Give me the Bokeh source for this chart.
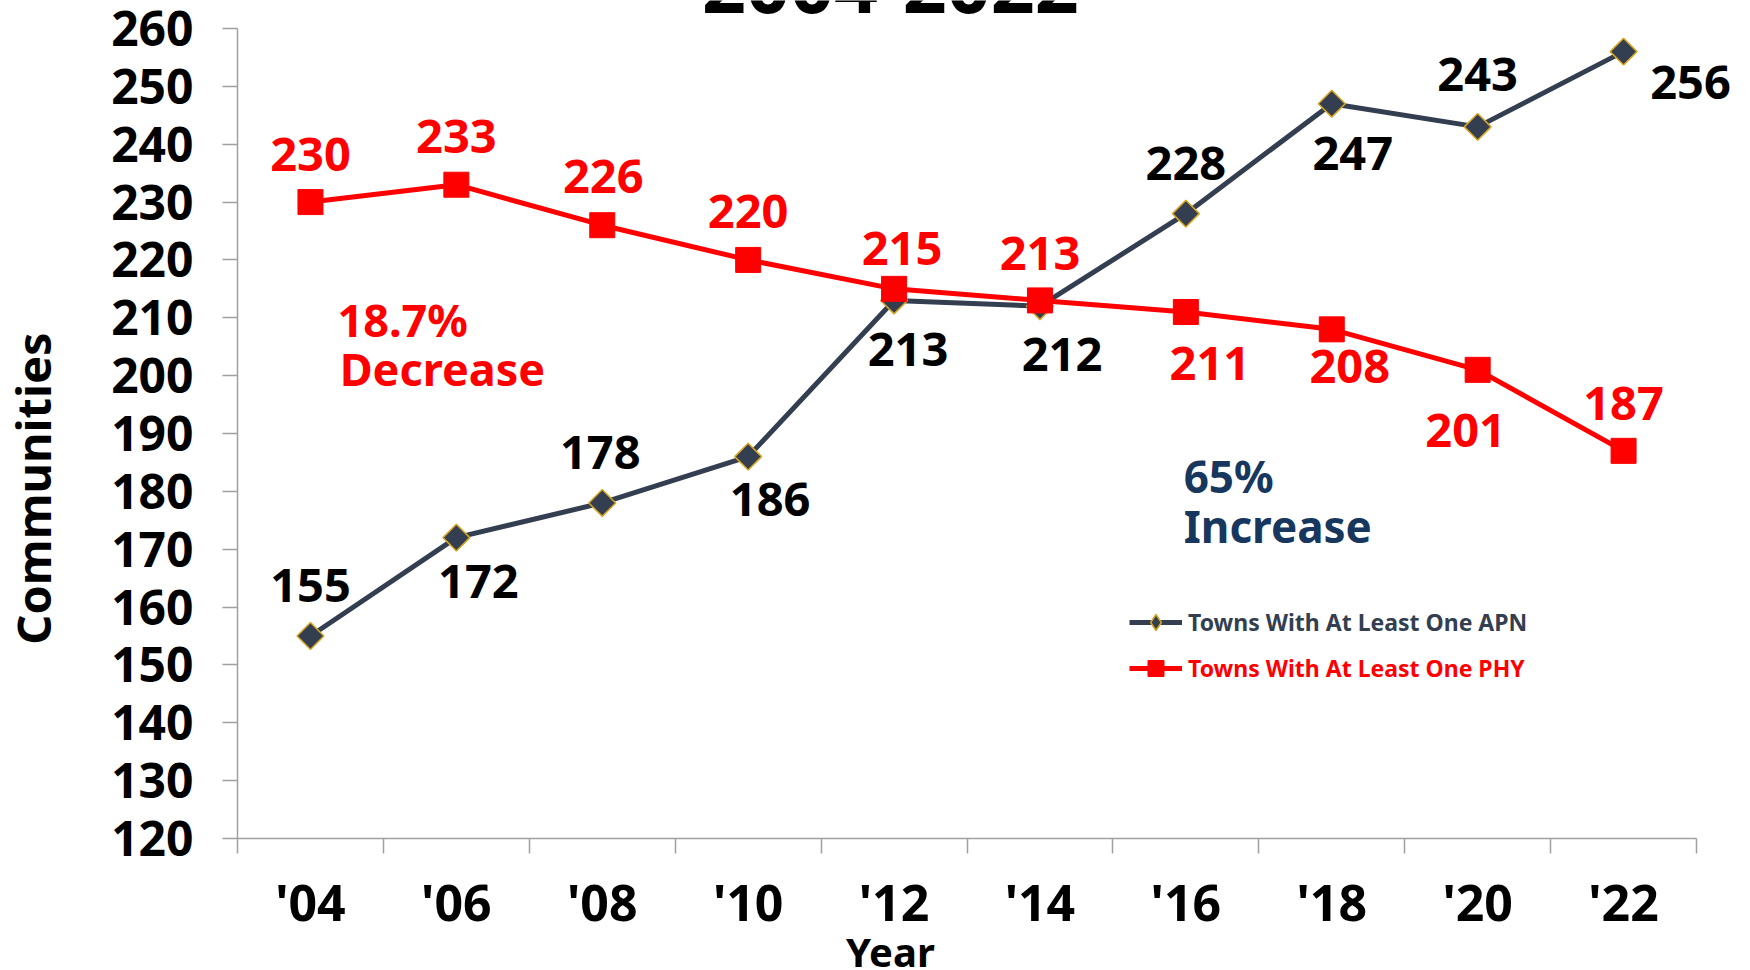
import numpy as np
from bokeh.plotting import figure
from bokeh.models import (Range1d, FixedTicker, LabelSet, Label, ColumnDataSource,
                          Legend, LegendItem)
from bokeh.embed import file_html
from bokeh.resources import INLINE
from bokeh.core.properties import value

# ---------------- data ----------------
years = [2004, 2006, 2008, 2010, 2012, 2014, 2016, 2018, 2020, 2022]
year_labels = ["'04", "'06", "'08", "'10", "'12", "'14", "'16", "'18", "'20", "'22"]
apn = [155, 172, 178, 186, 213, 212, 228, 247, 243, 256]
phy = [230, 233, 226, 220, 215, 213, 211, 208, 201, 187]
y_ticks = list(range(120, 261, 10))
apn_name = "Towns With At Least One APN"
phy_name = "Towns With At Least One PHY"
title_text = "2004-2022"
x_title = "Year"
y_title = "Communities"

# label offsets (screen px, +y = up)
apn_dx = [0, 22, -2, 22, 14, 22, 0, 21, 0, 67]
apn_dy = [50, -44, 50, -43, -49, -48, 50, -50, 52, -31]
phy_dx = [0, 0, 1, 0, 8, 0, 24, 18, -12, 0]
phy_dy = [48, 48, 49, 48, 40, 47, -52, -37, -61, 47]

FONT_NAME = "Noto Sans"
FONT = value(FONT_NAME)
APN_C = "#333F50"
APN_EDGE = "#DAA520"
PHY_C = "#FF0000"
NAVY = "#17375E"
AXIS_C = "#A0A0A0"

# frame fills the whole canvas; axes are pinned at data positions
p = figure(width=1750, height=970, output_backend="svg", toolbar_location=None,
           x_range=Range1d(1999.751, 2023.740), y_range=Range1d(97.185, 264.839),
           min_border_left=0, min_border_right=0, min_border_top=0,
           min_border_bottom=0)
p.outline_line_color = None
p.grid.visible = False
p.background_fill_color = "white"
p.border_fill_color = "white"

src_apn = ColumnDataSource(dict(x=years, y=apn, t=[str(v) for v in apn], dx=apn_dx, dy=apn_dy))
src_phy = ColumnDataSource(dict(x=years, y=phy, t=[str(v) for v in phy], dx=phy_dx, dy=phy_dy))

apn_line = p.line("x", "y", source=src_apn, line_color=APN_C, line_width=5)
# diamond swatch used for the legend (hidden under the rotated squares)
apn_swatch = p.scatter("x", "y", source=src_apn, marker="diamond", size=16,
                       fill_color=APN_C, line_color=APN_EDGE, line_width=1.5)
apn_pts = p.scatter("x", "y", source=src_apn, marker="square", angle=np.pi / 4, size=19,
                    fill_color=APN_C, line_color=APN_EDGE, line_width=1.5)
phy_line = p.line("x", "y", source=src_phy, line_color=PHY_C, line_width=5)
phy_pts = p.scatter("x", "y", source=src_phy, marker="square", size=25,
                    fill_color=PHY_C, line_color=PHY_C, line_width=1)

for src, col in ((src_apn, "black"), (src_phy, PHY_C)):
    ls = LabelSet(x="x", y="y", text="t", source=src, x_offset="dx", y_offset="dy",
                  text_align="center", text_baseline="middle", text_color=col,
                  text_font=FONT, text_font_style="bold", text_font_size="47px")
    p.add_layout(ls)

# axes
xa = p.xaxis[0]
xa.fixed_location = 120
xa.bounds = (2003, 2023)
xa.ticker = FixedTicker(ticks=years, minor_ticks=list(range(2003, 2024, 2)))
xa.major_label_overrides = dict(zip(years, year_labels))
xa.major_tick_out = 0
xa.major_tick_in = 0
xa.major_tick_line_color = None
xa.minor_tick_out = 15
xa.minor_tick_in = 0
xa.minor_tick_line_color = AXIS_C
xa.minor_tick_line_width = 1.5
xa.axis_line_color = AXIS_C
xa.axis_line_width = 1.5
xa.major_label_text_font = FONT_NAME
xa.major_label_text_font_style = "bold"
xa.major_label_text_font_size = "50px"
xa.major_label_text_color = "black"
xa.major_label_standoff = 15

ya = p.yaxis[0]
ya.fixed_location = 2003
ya.bounds = (120, 260)
ya.ticker = FixedTicker(ticks=y_ticks)
ya.major_tick_out = 15
ya.major_tick_in = 0
ya.major_tick_line_color = AXIS_C
ya.major_tick_line_width = 1.5
ya.minor_tick_line_color = None
ya.axis_line_color = AXIS_C
ya.axis_line_width = 1.5
ya.major_label_text_font = FONT_NAME
ya.major_label_text_font_style = "bold"
ya.major_label_text_font_size = "48px"
ya.major_label_text_color = "black"
ya.major_label_standoff = 29

# titles as annotations
p.add_layout(Label(x=2011.95, y=267.59, text=title_text, text_align="center",
                   text_baseline="middle", text_font=FONT_NAME, text_font_style="bold",
                   text_font_size="77px", text_color="black"))
p.add_layout(Label(x=2011.95, y=100.47, text=x_title, text_align="center",
                   text_baseline="middle", text_font=FONT_NAME, text_font_style="bold",
                   text_font_size="40px", text_color="black"))
p.add_layout(Label(x=2000.19, y=180.49, text=y_title, angle=np.pi / 2, text_align="center",
                   text_baseline="middle", text_font=FONT_NAME, text_font_style="bold",
                   text_font_size="47px", text_color="black"))

# annotations
for txt, x, y, col, fs in (("18.7%", 2004.37, 209.62, PHY_C, "45px"),
                           ("Decrease", 2004.40, 201.32, PHY_C, "45px"),
                           ("65%", 2015.97, 182.59, NAVY, "44px"),
                           ("Increase", 2015.97, 173.94, NAVY, "44px")):
    p.add_layout(Label(x=x, y=y, text=txt, text_align="left", text_baseline="middle",
                       text_font=FONT_NAME, text_font_style="bold", text_font_size=fs,
                       text_color=col))

# legends (one per item so each label gets its own colour)
for name, rends, col, loc in ((apn_name, [apn_line, apn_swatch], APN_C, (1129, 328)),
                              (phy_name, [phy_line, phy_pts], PHY_C, (1129, 282))):
    leg = Legend(items=[LegendItem(label=name, renderers=rends)], location=loc,
                 glyph_width=53, glyph_height=40, label_height=40, padding=0, margin=0,
                 spacing=0, label_standoff=6, border_line_color=None,
                 background_fill_alpha=0, label_text_font=FONT_NAME,
                 label_text_font_style="bold", label_text_font_size="23px",
                 label_text_color=col)
    p.add_layout(leg)

open("out.html", "w").write(file_html(p, INLINE))
